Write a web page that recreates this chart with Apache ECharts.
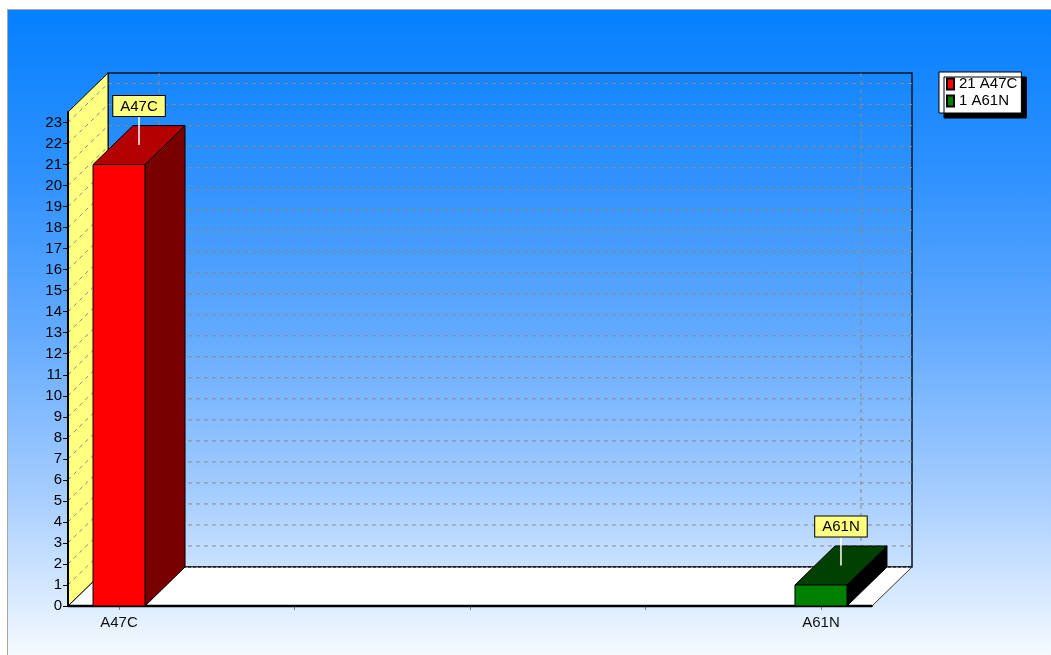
<!DOCTYPE html>
<html><head><meta charset="utf-8">
<script src="https://cdn.jsdelivr.net/npm/echarts@6/dist/echarts.min.js"></script>
<style>
html,body{margin:0;padding:0;background:#fff;overflow:hidden;}
#bg{position:absolute;left:7px;top:9px;width:1043px;height:645px;border-left:1px solid #aca899;border-top:1px solid #aca899;
background:linear-gradient(to bottom,#0580ff 0%,#2e91ff 25%,#63aaff 50%,#a5cdff 75%,#f5faff 100%);}
#chart{position:absolute;left:0;top:0;width:1051px;height:655px;}
</style></head>
<body><div id="bg"></div><div id="chart"></div>
<script>
// ---- data ----
const categories = ['A47C', 'A61N'];
const values = [21, 1];
const yTicks = [0,1,2,3,4,5,6,7,8,9,10,11,12,13,14,15,16,17,18,19,20,21,22,23];
const xTicks = [0, 0.25, 0.5, 0.75, 1];
const xLabelValues = [0, 1];

// ---- style ----
const DX = 40, DY = -39, BAR_W = 52;
const FONT = "'Liberation Sans', Arial, sans-serif";
const frontColors = ['#ff0000', '#008000'];
const topColors = ['#b40000', '#004000'];
const sideColors = ['#780000', '#000000'];

const chart = echarts.init(document.getElementById('chart'), null, {renderer: 'canvas'});

function wallsRender(params, api) {
  const cs = params.coordSys;
  const x0 = cs.x, x1 = cs.x + cs.width, yT = cs.y, yB = cs.y + cs.height;
  const ch = [];
  // back wall frame
  ch.push({type: 'rect', shape: {x: x0 + DX, y: yT + DY, width: cs.width, height: cs.height},
    style: {fill: null, stroke: '#06121e', lineWidth: 1.5}});
  // back wall horizontal grid
  yTicks.forEach(v => {
    if (v === 0) return;
    const y = api.coord([0, v])[1] + DY;
    ch.push({type: 'line', shape: {x1: x0 + DX, y1: y, x2: x1 + DX, y2: y},
      style: {stroke: '#8a8a8a', lineWidth: 1, lineDash: [4, 4]}});
  });
  // back wall vertical grid
  xLabelValues.forEach(xv => {
    const x = api.coord([xv, 0])[0] + DX;
    ch.push({type: 'line', shape: {x1: x, y1: yT + DY, x2: x, y2: yB + DY},
      style: {stroke: '#8a8a8a', lineWidth: 1, lineDash: [4, 4]}});
  });
  // floor
  ch.push({type: 'polygon', shape: {points: [[x0, yB], [x1, yB], [x1 + DX, yB + DY], [x0 + DX, yB + DY]]},
    style: {fill: '#ffffff', stroke: '#333', lineWidth: 1}});
  ch.push({type: 'line', shape: {x1: x0 + DX, y1: yB + DY, x2: x1 + DX, y2: yB + DY},
    style: {stroke: '#000', lineWidth: 1, lineDash: [3, 2]}});
  // left wall
  ch.push({type: 'polygon', shape: {points: [[x0, yT], [x0 + DX, yT + DY], [x0 + DX, yB + DY], [x0, yB]]},
    style: {fill: '#ffff80', stroke: '#000', lineWidth: 1}});
  yTicks.forEach(v => {
    if (v === 0) return;
    const y = api.coord([0, v])[1];
    ch.push({type: 'line', shape: {x1: x0, y1: y, x2: x0 + DX, y2: y + DY},
      style: {stroke: '#8a8a8a', lineWidth: 1, lineDash: [4, 4]}});
  });
  // front edges
  ch.push({type: 'line', shape: {x1: x0, y1: yB, x2: x1, y2: yB}, style: {stroke: '#000', lineWidth: 2.5}});
  ch.push({type: 'line', shape: {x1: x0, y1: yT, x2: x0, y2: yB}, style: {stroke: '#000', lineWidth: 2}});
  return {type: 'group', children: ch};
}

function barRender(i) {
  return function (params, api) {
    const xv = api.value(0), v = api.value(1);
    const pt = api.coord([xv, v]), pb = api.coord([xv, 0]);
    const l = pt[0] - BAR_W / 2, r = pt[0] + BAR_W / 2, t = pt[1], b = pb[1];
    const ch = [];
    ch.push({type: 'polygon', shape: {points: [[r, t], [r + DX, t + DY], [r + DX, b + DY], [r, b]]},
      style: {fill: sideColors[i], stroke: '#000', lineWidth: 1}});
    ch.push({type: 'polygon', shape: {points: [[l, t], [r, t], [r + DX, t + DY], [l + DX, t + DY]]},
      style: {fill: topColors[i], stroke: '#000', lineWidth: 1}});
    ch.push({type: 'rect', shape: {x: l, y: t, width: BAR_W, height: b - t},
      style: {fill: frontColors[i], stroke: '#000', lineWidth: 1}});
    const ax = pt[0] + DX / 2, ay = t + DY / 2;
    ch.push({type: 'line', shape: {x1: ax, y1: ay, x2: ax, y2: ay - 29},
      style: {stroke: '#ffffff', lineWidth: 1.5}});
    ch.push({type: 'text', x: ax, y: ay - 29, z2: 10,
      style: {text: categories[i], fill: '#000', font: '15px ' + FONT, align: 'center', verticalAlign: 'bottom',
        backgroundColor: '#ffff80', borderColor: '#000', borderWidth: 1, padding: [2, 7, 1, 7], lineHeight: 17}});
    return {type: 'group', children: ch};
  };
}

const barSeries = categories.map((c, i) => ({
  type: 'custom',
  name: values[i] + ' ' + c,
  coordinateSystem: 'cartesian2d',
  z: 5,
  clip: false,
  silent: true,
  itemStyle: {color: frontColors[i], borderColor: '#000', borderWidth: 1},
  renderItem: barRender(i),
  data: [[i, values[i]]]
}));

chart.setOption({
  animation: false,
  textStyle: {fontFamily: FONT},
  grid: {left: 68, right: 179, top: 112, bottom: 49},
  legend: {
    data: barSeries.map(s => s.name),
    orient: 'vertical', left: 939, top: 72,
    padding: [4, 4, 4, 7], itemGap: 1,
    itemWidth: 7, itemHeight: 11, icon: 'rect',
    backgroundColor: '#fff', borderColor: '#000', borderWidth: 1,
    shadowColor: '#000', shadowBlur: 0, shadowOffsetX: 5, shadowOffsetY: 5,
    selectedMode: false,
    textStyle: {fontSize: 15, color: '#000', fontFamily: FONT, lineHeight: 16}
  },
  xAxis: {
    type: 'value', min: -0.0727, max: 1.0727,
    axisLine: {show: true, onZero: false, lineStyle: {color: '#000', width: 2}},
    axisTick: {show: true, length: 4, customValues: xTicks, lineStyle: {color: '#808080'}},
    axisLabel: {customValues: xLabelValues, formatter: v => categories[Math.round(v)], fontSize: 15, color: '#111', margin: 9},
    splitLine: {show: false}
  },
  yAxis: {
    type: 'value', min: 0, max: 23.5,
    axisLine: {show: true, onZero: false, lineStyle: {color: '#000', width: 2}},
    axisTick: {show: true, length: 5, customValues: yTicks, lineStyle: {color: '#000'}},
    axisLabel: {customValues: yTicks, fontSize: 15, color: '#000', margin: 6},
    splitLine: {show: false}
  },
  series: [{
    type: 'custom', name: 'walls', coordinateSystem: 'cartesian2d', z: 1, clip: false,
    silent: true, renderItem: wallsRender, data: [[0, 0]]
  }].concat(barSeries)
});
</script>
</body></html>
